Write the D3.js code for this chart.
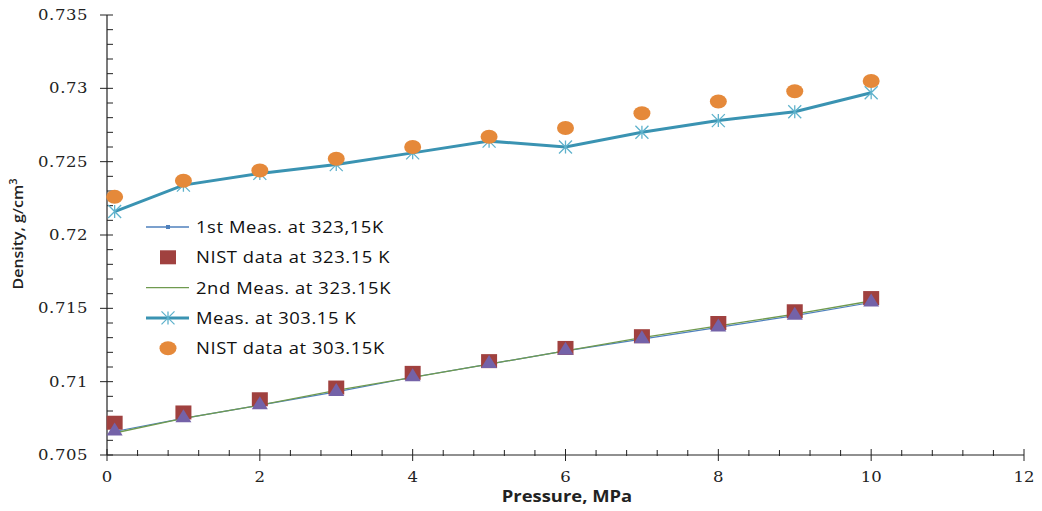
<!DOCTYPE html>
<html>
<head>
<meta charset="utf-8">
<script src="https://cdn.jsdelivr.net/npm/d3@7"></script>
<style>
  body { margin: 0; background: #fff; }
  svg { display: block; }
</style>
</head>
<body>
<script>
// pressure points, MPa
const pressure = [0.1, 1, 2, 3, 4, 5, 6, 7, 8, 9, 10];

// densities, g/cm3
const meas1_323 = [0.7066, 0.7075, 0.7084, 0.7093, 0.7103, 0.7112, 0.7121, 0.7129, 0.7137, 0.7145, 0.7154];
const nist_323 = [0.7072, 0.7079, 0.7088, 0.7096, 0.7106, 0.7114, 0.7123, 0.7131, 0.7140, 0.7148, 0.7157];
const meas2_323 = [0.7065, 0.7075, 0.7084, 0.7094, 0.7103, 0.7112, 0.7121, 0.7130, 0.7138, 0.7146, 0.7155];
const meas_303 = [0.7216, 0.7234, 0.7242, 0.7248, 0.7256, 0.7264, 0.7260, 0.7270, 0.7278, 0.7284, 0.7297];
const nist_303 = [0.7226, 0.7237, 0.7244, 0.7252, 0.7260, 0.7267, 0.7273, 0.7283, 0.7291, 0.7298, 0.7305];

const xTicks = [0, 2, 4, 6, 8, 10, 12];
const yTicks = [0.705, 0.71, 0.715, 0.72, 0.725, 0.73, 0.735];
const yTickLabels = ["0.705", "0.71", "0.715", "0.72", "0.725", "0.73", "0.735"];
const legendLabels = ["1st Meas. at 323,15K", "NIST data at 323.15 K", "2nd Meas. at 323.15K", "Meas. at 303.15 K", "NIST data at 303.15K"];

const W = 1042, H = 511;
const svg = d3.select("body").append("svg").attr("width", W).attr("height", H);

const x = d3.scaleLinear().domain([0, 12]).range([107, 1024]);
const y = d3.scaleLinear().domain([0.705, 0.735]).range([455, 15]);

const C = {
  line303: "#3a93b2",
  star: "#5fb2cc",
  circle: "#e5893a",
  square: "#a0413f",
  tri: "#7462a8",
  line1: "#4f81bd",
  line2: "#6f9a4f",
  axis: "#222"
};

// axes
const gx = svg.append("g");
gx.append("line").attr("x1", x(0)).attr("x2", x(12)).attr("y1", y(0.705)).attr("y2", y(0.705))
  .attr("stroke", C.axis).attr("stroke-width", 1.2);
d3.range(0, 12.01, 0.4).forEach(v => {
  const major = Math.abs(v / 2 - Math.round(v / 2)) < 1e-6;
  gx.append("line").attr("x1", x(v)).attr("x2", x(v))
    .attr("y1", y(0.705) - (major ? 6 : 5)).attr("y2", y(0.705) + (major ? 6 : 1))
    .attr("stroke", C.axis).attr("stroke-width", 1);
});
gx.selectAll("text.xt").data(xTicks).enter().append("text")
  .attr("transform", d => `translate(${x(d)},482) scale(1.1,1)`)
  .attr("text-anchor", "middle")
  .style("font-family", "'DejaVu Serif', serif").style("font-size", "15px")
  .attr("fill", "#222")
  .text(d => d);

const gy = svg.append("g");
gy.append("line").attr("x1", x(0)).attr("x2", x(0)).attr("y1", y(0.705)).attr("y2", y(0.735))
  .attr("stroke", C.axis).attr("stroke-width", 1.2);
d3.range(0, 31).forEach(i => {
  const v = 0.705 + i * 0.001;
  const major = i % 5 === 0;
  gy.append("line").attr("x1", x(0) - (major ? 7 : 0)).attr("x2", x(0) + 6)
    .attr("y1", y(v)).attr("y2", y(v))
    .attr("stroke", C.axis).attr("stroke-width", 1);
});
gy.selectAll("text.yt").data(yTicks).enter().append("text")
  .attr("transform", d => `translate(88,${y(d) + 5}) scale(1.1,1)`)
  .attr("text-anchor", "end")
  .style("font-family", "'DejaVu Serif', serif").style("font-size", "15px")
  .style("letter-spacing", "0.5px")
  .attr("fill", "#222")
  .text((d, i) => yTickLabels[i]);

// axis titles
svg.append("text").attr("transform", "translate(567,502) scale(1.15,1)").attr("text-anchor", "middle")
  .style("font-family", "'Open Sans', sans-serif").style("font-size", "16px").style("font-weight", "bold")
  .attr("fill", "#222").text("Pressure, MPa");

const yt = svg.append("text").attr("transform", "translate(23,234) rotate(-90) scale(1.1,1)")
  .attr("text-anchor", "middle")
  .style("font-family", "'Open Sans', sans-serif").style("font-size", "14.5px").style("font-weight", "600")
  .attr("fill", "#222");
yt.append("tspan").text("Density, g/cm");
yt.append("tspan").attr("dy", -6).style("font-size", "10px").text("3");

const pts = arr => pressure.map((p, i) => [p, arr[i]]);
const line = d3.line().x(d => x(d[0])).y(d => y(d[1]));

// 323.15 K series
svg.append("path").attr("d", line(pts(meas1_323))).attr("fill", "none")
  .attr("stroke", C.line1).attr("stroke-width", 1.2);
svg.append("path").attr("d", line(pts(meas2_323))).attr("fill", "none")
  .attr("stroke", C.line2).attr("stroke-width", 1.3);

svg.selectAll("rect.nist323").data(pts(nist_323)).enter().append("rect")
  .attr("x", d => x(d[0]) - 8).attr("y", d => y(d[1]) - 7)
  .attr("width", 16).attr("height", 14).attr("fill", C.square);

svg.selectAll("path.tri").data(pts(meas1_323)).enter().append("path")
  .attr("d", "M-8,6L0,-7L8,6Z")
  .attr("transform", d => `translate(${x(d[0])},${y(d[1]) - 2})`)
  .attr("fill", C.tri);

// 303.15 K series
svg.append("path").attr("d", line(pts(meas_303))).attr("fill", "none")
  .attr("stroke", C.line303).attr("stroke-width", 3);

function star(g, cx, cy, r) {
  g.append("path")
    .attr("d", `M${cx - r},${cy - r}L${cx + r},${cy + r}M${cx - r},${cy + r}L${cx + r},${cy - r}M${cx},${cy - r}L${cx},${cy + r}`)
    .attr("stroke", C.star).attr("stroke-width", 1.3).attr("fill", "none");
}
const gs = svg.append("g");
pts(meas_303).forEach(d => star(gs, x(d[0]), y(d[1]), 6.5));

svg.selectAll("ellipse.nist303").data(pts(nist_303)).enter().append("ellipse")
  .attr("cx", d => x(d[0])).attr("cy", d => y(d[1]))
  .attr("rx", 8.5).attr("ry", 7).attr("fill", C.circle);

// legend
const lg = svg.append("g");
const ly = d => 227 + d * 30.3;
lg.selectAll("text").data(legendLabels).enter().append("text")
  .attr("transform", (d, i) => `translate(196,${ly(i) + 6}) scale(1.15,1)`)
  .style("font-family", "'Open Sans', sans-serif").style("font-size", "16px")
  .style("letter-spacing", "0.5px")
  .attr("fill", "#111").text(d => d);

lg.append("line").attr("x1", 146).attr("x2", 189).attr("y1", ly(0)).attr("y2", ly(0))
  .attr("stroke", C.line1).attr("stroke-width", 1.5);
lg.append("rect").attr("x", 166).attr("y", ly(0) - 2).attr("width", 4).attr("height", 4).attr("fill", C.line1);
lg.append("rect").attr("x", 160).attr("y", ly(1) - 7).attr("width", 16).attr("height", 14).attr("fill", C.square);
lg.append("line").attr("x1", 146).attr("x2", 189).attr("y1", ly(2)).attr("y2", ly(2))
  .attr("stroke", C.line2).attr("stroke-width", 1.2);
lg.append("line").attr("x1", 146).attr("x2", 189).attr("y1", ly(3)).attr("y2", ly(3))
  .attr("stroke", C.line303).attr("stroke-width", 3);
star(lg, 168, ly(3), 6.5);
lg.append("ellipse").attr("cx", 168).attr("cy", ly(4)).attr("rx", 8.5).attr("ry", 7).attr("fill", C.circle);
</script>
</body>
</html>
